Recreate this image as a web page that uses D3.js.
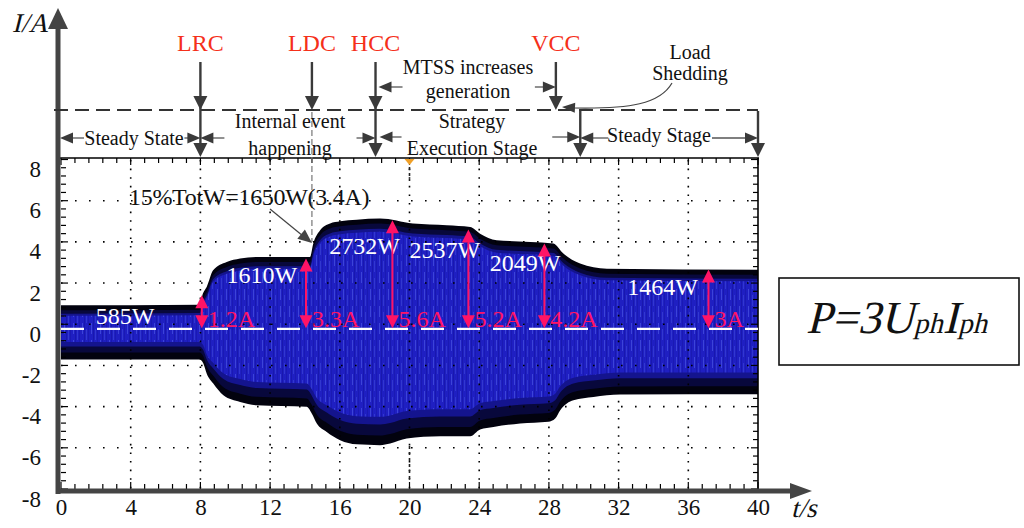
<!DOCTYPE html>
<html>
<head>
<meta charset="utf-8">
<script src="https://cdn.jsdelivr.net/npm/d3@7"></script>
<style>
  body { margin: 0; background: #fff; }
  text { font-family: "Liberation Serif", "DejaVu Serif", serif; }
</style>
</head>
<body>
<svg id="chart" width="1024" height="528"></svg>
<script>
// tick labels
var xTicks = [0, 4, 8, 12, 16, 20, 24, 28, 32, 36, 40];
var yTicks = [-8, -6, -4, -2, 0, 2, 4, 6, 8];

// envelope of the phase current, [t(s), I(A)]
var upperEnv = [[0,0.92],[7.95,0.95],[8.15,1.5],[8.36,1.81],[8.73,2.62],[9.51,3.02],[10.28,3.19],
  [11.23,3.27],[14.29,3.27],[14.48,3.92],[14.87,4.56],[15.44,4.89],[16.02,5.0],[16.97,5.08],
  [18.31,5.13],[20.2,4.89],[22.14,4.81],[23.48,4.72],[24.05,4.4],[25.0,4.08],[26.93,4.0],
  [28.26,3.92],[28.83,3.43],[29.79,2.95],[31.33,2.7],[40,2.65]];
var lowerEnv = [[0,-1.71],[7.95,-1.71],[8.17,-1.91],[8.36,-2.39],[8.74,-2.88],[9.32,-3.45],
  [10.28,-3.77],[11.23,-3.93],[14.1,-4.01],[14.39,-4.33],[14.68,-4.82],[15.25,-5.23],[16.02,-5.63],
  [16.97,-5.83],[18.31,-5.87],[18.89,-5.79],[19.84,-5.55],[21.76,-5.44],[23.48,-5.44],[24.05,-5.11],
  [24.82,-4.99],[26.35,-4.82],[27.97,-4.74],[28.36,-4.58],[28.65,-4.17],[29.41,-3.69],[30.56,-3.53],
  [32.09,-3.41],[40,-3.4]];

// power labels
var powerLabels = ['585W', '1610W', '2732W', '2537W', '2049W', '1464W'];
var powerT = [2.0, 9.5, 15.4, 20.0, 24.6, 32.5];
var powerV = [0.0, 2.0, 3.4, 3.2, 2.6, 1.4];

// amplitude arrows
var ampLabels = ['1.2A', '3.3A', '5.6A', '5.2A', '4.2A', '3A'];
var ampT = [8.08, 14.06, 19.02, 23.38, 27.74, 37.16];
var ampV = [1.41, 3.19, 5.05, 4.6, 3.92, 2.66];

// control events
var eventNames = ['LRC', 'LDC', 'HCC', 'VCC'];
var eventT = [8, 14.4, 18.05, 28.4];
var steadyT = 29.8;

var svg = d3.select('#chart');
var x = d3.scaleLinear().domain([0, 40]).range([61, 758]);
var y = d3.scaleLinear().domain([-8, 8]).range([489, 159.5]);

var dark = '#3a3a3a', red = '#ff1466', eventRed = '#f5301a';

function head(g, tx, ty, dx, dy, len, hw, color){
   var n = Math.hypot(dx, dy); dx /= n; dy /= n;
   var bx = tx - dx*len, by = ty - dy*len, px = -dy*hw, py = dx*hw;
   g.append('path')
      .attr('d', 'M' + tx + ',' + ty + 'L' + (bx+px) + ',' + (by+py) + 'L' + (bx-px) + ',' + (by-py) + 'Z')
      .attr('fill', color);
}
// serif italic made by slanting the upright face
function italic(g, px, py, size){
   return g.append('g').attr('transform', 'translate(' + px + ',' + py + ')')
      .append('text').attr('transform', 'skewX(-14)').attr('font-size', size).attr('fill', '#111');
}

// pattern for oscillation texture
var defs = svg.append('defs');
var pat = defs.append('pattern').attr('id', 'osc').attr('width', 9).attr('height', 17)
   .attr('patternUnits', 'userSpaceOnUse');
pat.append('rect').attr('width', 9).attr('height', 17).attr('fill', '#1f1fc2');
pat.append('rect').attr('x', 1).attr('width', 1).attr('height', 11).attr('fill', '#5a6aee').attr('opacity', 0.5);
pat.append('rect').attr('x', 5).attr('y', 6).attr('width', 1).attr('height', 11).attr('fill', '#4e5ce4').attr('opacity', 0.4);
pat.append('rect').attr('x', 3).attr('width', 1).attr('height', 17).attr('fill', '#1414a0').attr('opacity', 0.6);
pat.append('rect').attr('x', 7).attr('width', 1).attr('height', 17).attr('fill', '#1616a4').attr('opacity', 0.5);

// signal
var sig = svg.append('g');
var lineU = d3.line().x(function(d){ return x(d[0]); }).y(function(d){ return y(d[1]); }).curve(d3.curveMonotoneX);
var outer = lineU(upperEnv) + 'L' + lineU(lowerEnv.slice().reverse()).slice(1) + 'Z';
sig.append('path').attr('d', outer).attr('fill', '#02020e');

// dark blue transition band, then the bright body
var lineMU = d3.line().x(function(d){ return x(d[0]); })
   .y(function(d){ return y(d[1]) + 5; }).curve(d3.curveMonotoneX);
var lineML = d3.line().x(function(d){ return x(d[0]); })
   .y(function(d){ return y(d[1]) - (6 + 0.6*Math.abs(d[1])); }).curve(d3.curveMonotoneX);
sig.append('path').attr('d', lineMU(upperEnv) + 'L' + lineML(lowerEnv.slice().reverse()).slice(1) + 'Z')
   .attr('fill', '#08083c');
var lineIU = d3.line().x(function(d){ return x(d[0]); })
   .y(function(d){ return y(d[1]) + 8 + 0.4*d[1]; }).curve(d3.curveMonotoneX);
var lineIL = d3.line().x(function(d){ return x(d[0]); })
   .y(function(d){ return y(d[1]) - (10 + 1.8*Math.abs(d[1])); }).curve(d3.curveMonotoneX);
var inner = lineIU(upperEnv) + 'L' + lineIL(lowerEnv.slice().reverse()).slice(1) + 'Z';
sig.append('path').attr('d', inner).attr('fill', '#14148e');
var lineJU = d3.line().x(function(d){ return x(d[0]); })
   .y(function(d){ return y(d[1]) + 10 + 0.6*d[1]; }).curve(d3.curveMonotoneX);
var lineJL = d3.line().x(function(d){ return x(d[0]); })
   .y(function(d){ return y(d[1]) - (13 + 2.6*Math.abs(d[1])); }).curve(d3.curveMonotoneX);
sig.append('path').attr('d', lineJU(upperEnv) + 'L' + lineJL(lowerEnv.slice().reverse()).slice(1) + 'Z')
   .attr('fill', 'url(#osc)');

// grid (dotted)
var grid = svg.append('g');
xTicks.slice(1, -1).forEach(function(t){
   grid.append('line').attr('x1', x(t)).attr('x2', x(t)).attr('y1', 160).attr('y2', 489)
      .attr('stroke', '#000').attr('stroke-width', 1.6).attr('stroke-dasharray', '1.6,7');
});
yTicks.slice(1, -1).forEach(function(v){
   grid.append('line').attr('x1', 61).attr('x2', 757).attr('y1', y(v)).attr('y2', y(v))
      .attr('stroke', '#000').attr('stroke-width', 1.6).attr('stroke-dasharray', '1.6,12.4');
});

// minor ticks on the frame
var tk = svg.append('g').attr('stroke', '#000').attr('stroke-width', 1.2);
d3.range(0, 40.01, 0.8).forEach(function(t){
   var len = (Math.abs(t/4 - Math.round(t/4)) < 1e-6) ? 7 : 5;
   tk.append('line').attr('x1', x(t)).attr('x2', x(t)).attr('y1', 158).attr('y2', 158 + len);
   tk.append('line').attr('x1', x(t)).attr('x2', x(t)).attr('y1', 489).attr('y2', 489 - len);
});
d3.range(-8, 8.01, 0.4).forEach(function(v){
   var len = (Math.abs(v/2 - Math.round(v/2)) < 1e-6) ? 7 : 5;
   tk.append('line').attr('x1', 61).attr('x2', 61 + len).attr('y1', y(v)).attr('y2', y(v));
   tk.append('line').attr('x1', 758).attr('x2', 758 - len).attr('y1', y(v)).attr('y2', y(v));
});

// frame
svg.append('line').attr('x1', 58).attr('x2', 759).attr('y1', 158).attr('y2', 158)
   .attr('stroke', '#000').attr('stroke-width', 1.6);
svg.append('line').attr('x1', 758).attr('x2', 758).attr('y1', 158).attr('y2', 491)
   .attr('stroke', '#000').attr('stroke-width', 1.6);

// trigger marker at t = 20
svg.append('path').attr('d', 'M' + (x(20)-5) + ',159L' + (x(20)+5) + ',159L' + x(20) + ',165Z').attr('fill', '#f0a028');
svg.append('line').attr('x1', x(20)).attr('x2', x(20)).attr('y1', 167).attr('y2', 181)
   .attr('stroke', '#222').attr('stroke-width', 1.6).attr('stroke-dasharray', '3,3');
svg.append('line').attr('x1', x(20)).attr('x2', x(20)).attr('y1', 446).attr('y2', 482)
   .attr('stroke', '#222').attr('stroke-width', 1.6).attr('stroke-dasharray', '3,3');

// zero reference
svg.append('line').attr('x1', 61).attr('x2', 758).attr('y1', y(-0.22)).attr('y2', y(-0.22))
   .attr('stroke', '#fff').attr('stroke-width', 2.2).attr('stroke-dasharray', '23,13');

// LDC dashed marker
svg.append('line').attr('x1', x(eventT[1])).attr('x2', x(eventT[1])).attr('y1', 112).attr('y2', 242)
   .attr('stroke', '#777').attr('stroke-width', 1.2).attr('stroke-dasharray', '6,3');

// axes
var ax = svg.append('g');
ax.append('line').attr('x1', 58).attr('x2', 58).attr('y1', 494).attr('y2', 26)
   .attr('stroke', '#444').attr('stroke-width', 5);
head(ax, 58, 8, 0, -1, 21, 10, '#444');
ax.append('line').attr('x1', 56).attr('x2', 792).attr('y1', 491).attr('y2', 491)
   .attr('stroke', '#444').attr('stroke-width', 5);
head(ax, 812, 491, 1, 0, 22, 8, '#444');

var xAxis = svg.append('g').attr('transform', 'translate(0,491)')
   .call(d3.axisBottom(x).tickValues(xTicks).tickSize(0).tickPadding(8).tickFormat(function(d){ return String(d); }))
   .attr('font-family', '"Liberation Serif", serif');
xAxis.select('.domain').remove();
xAxis.selectAll('text').attr('font-size', 23).attr('fill', '#111');

var yAxis = svg.append('g').attr('transform', 'translate(58,0)')
   .call(d3.axisLeft(y).tickValues(yTicks).tickSize(0).tickPadding(17).tickFormat(function(d){ return String(d); }))
   .attr('font-family', '"Liberation Serif", serif');
yAxis.select('.domain').remove();
yAxis.selectAll('text').attr('font-size', 23).attr('fill', '#111').attr('dy', '0.74em');

italic(svg, 12, 32, 27).text('I/A');
italic(svg, 791, 517, 27).text('t/s');

// power labels
var pl = svg.append('g');
powerLabels.forEach(function(s, i){
   pl.append('text').attr('x', x(powerT[i])).attr('y', y(powerV[i]))
      .attr('font-size', 24).attr('fill', '#fff').text(s);
});

// amplitude arrows
var am = svg.append('g');
ampLabels.forEach(function(s, i){
   var xx = x(ampT[i]), yt = y(ampV[i]), yb = y(-0.2);
   am.append('line').attr('x1', xx).attr('x2', xx).attr('y1', yt + 8).attr('y2', yb - 8)
      .attr('stroke', red).attr('stroke-width', 2);
   head(am, xx, yt, 0, -1, 13, 6.5, red);
   head(am, xx, yb, 0, 1, 13, 6.5, red);
   am.append('text').attr('x', xx + 6).attr('y', y(-0.12)).attr('font-size', 24)
      .attr('fill', red).text(s);
});

// 15% annotation
svg.append('text').attr('x', 129).attr('y', 205).attr('font-size', 24).attr('fill', '#111')
   .attr('letter-spacing', -0.3).text('15%TotW=1650W(3.4A)');
svg.append('line').attr('x1', 270).attr('y1', 209).attr('x2', 303).attr('y2', 236)
   .attr('stroke', '#444').attr('stroke-width', 1.2);
head(svg, 312, 243, 42, 34, 14, 6, '#444');

// top annotation: events
var ann = svg.append('g');
ann.append('line').attr('x1', 54).attr('x2', 758).attr('y1', 110).attr('y2', 110)
   .attr('stroke', '#333').attr('stroke-width', 2.2).attr('stroke-dasharray', '14,7');

eventNames.forEach(function(n, i){
   var xx = x(eventT[i]);
   ann.append('text').attr('x', xx).attr('y', 51).attr('text-anchor', 'middle')
      .attr('font-size', 24).attr('fill', eventRed).text(n);
   var yEnd = (n === 'LRC' || n === 'HCC') ? 157 : 110;
   ann.append('line').attr('x1', xx).attr('x2', xx).attr('y1', 62).attr('y2', yEnd - 6)
      .attr('stroke', dark).attr('stroke-width', 2.4);
   head(ann, xx, 110, 0, 1, 14, 7, dark);
   if (yEnd > 110) head(ann, xx, 157, 0, 1, 14, 7, dark);
});
[steadyT, 40].forEach(function(t){
   var xx = x(t);
   ann.append('line').attr('x1', xx).attr('x2', xx).attr('y1', 111).attr('y2', 150)
      .attr('stroke', dark).attr('stroke-width', 2.4);
   head(ann, xx, 157, 0, 1, 14, 7, dark);
});

// spans between events
function span(x1, x2, yy, gl, gr){
   ann.append('line').attr('x1', x1 + 8).attr('x2', x1 + gl).attr('y1', yy).attr('y2', yy)
      .attr('stroke', '#555').attr('stroke-width', 1.3);
   ann.append('line').attr('x1', x2 - gr).attr('x2', x2 - 8).attr('y1', yy).attr('y2', yy)
      .attr('stroke', '#555').attr('stroke-width', 1.3);
   head(ann, x1, yy, -1, 0, 13, 5.5, dark);
   head(ann, x2, yy, 1, 0, 13, 5.5, dark);
}
function label(lines, cx, ys){
   lines.forEach(function(s, i){
      ann.append('text').attr('x', cx).attr('y', ys[i]).attr('text-anchor', 'middle')
         .attr('font-size', 20).attr('fill', '#111').text(s);
   });
}
span(60, x(eventT[0]), 138, 24, 16);
label(['Steady State'], 134, [145]);
span(x(eventT[0]), x(eventT[2]), 138, 24, 19);
label(['Internal event', 'happening'], 290, [128, 155]);
span(x(eventT[2]) + 4, x(steadyT), 137, 22, 28);
label(['Strategy', 'Execution Stage'], 472, [128, 155]);
span(x(steadyT), x(40), 138, 28, 46);
label(['Steady Stage'], 659, [142]);
span(x(eventT[2]) + 3, x(eventT[3]), 87, 24, 21);
label(['MTSS increases', 'generation'], 468, [74, 98]);
label(['Load', 'Shedding'], 690, [59, 80]);
ann.append('path').attr('d', 'M672,83C660,104 630,109 574,108').attr('fill', 'none')
   .attr('stroke', '#444').attr('stroke-width', 1.2);
head(ann, 562, 107, -1, -0.05, 13, 5, dark);

// formula box
var fb = svg.append('g');
fb.append('rect').attr('x', 779).attr('y', 278).attr('width', 240).attr('height', 87)
   .attr('fill', '#fff').attr('stroke', '#111').attr('stroke-width', 1.6);
var ft = italic(fb, 806, 333, 46);
ft.append('tspan').attr('font-size', 46).text('P=3U');
ft.append('tspan').attr('font-size', 29).text('ph');
ft.append('tspan').attr('font-size', 46).text('I');
ft.append('tspan').attr('font-size', 29).text('ph');
</script>
</body>
</html>
